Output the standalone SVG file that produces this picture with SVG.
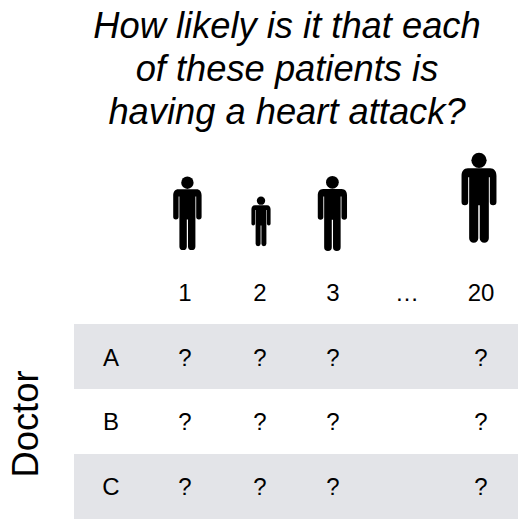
<svg xmlns="http://www.w3.org/2000/svg" width="525" height="521" viewBox="0 0 525 521">
<style>
text{font-family:"Liberation Sans",Arial,Helvetica,sans-serif;fill:#000;text-anchor:middle}
.t{font-size:36.3px;font-style:italic}
.c{font-size:24px}
.d{font-size:36.4px}
.band{fill:#e3e4e8}
</style>
<defs>
<g id="person">
<circle cx="0" cy="6.2" r="6.2"/>
<path d="M-9,12.8H9C12.5,12.8 14.2,15.5 14.2,19V40.2A2.7,2.7 0 0 1 8.8,40.2V20H8V69.9A3.6,3.6 0 0 1 0.6,69.9V43H-0.6V69.9A3.6,3.6 0 0 1 -8,69.9V20H-8.8V40.2A2.7,2.7 0 0 1 -14.2,40.2V19C-14.2,15.5 -12.5,12.8 -9,12.8Z"/>
</g>
</defs>
<rect width="525" height="521" fill="#fff"/>
<g id="title">
<text class="t" x="287" y="38">How likely is it that each</text>
<text class="t" x="287" y="81">of these patients is</text>
<text class="t" x="287" y="124">having a heart attack?</text>
</g>
<g id="bands">
<rect class="band" x="74" y="324" width="444" height="65"/>
<rect class="band" x="74" y="454" width="444" height="65"/>
</g>
<g id="patient-1"><use href="#person" transform="translate(187.4,176.5)"/><text class="c" x="185" y="301">1</text></g>
<g id="patient-2"><use href="#person" transform="translate(261,196.5) scale(.675)"/><text class="c" x="260" y="301">2</text></g>
<g id="patient-3"><use href="#person" transform="translate(332.4,176) scale(1.03,1.02)"/><text class="c" x="333" y="301">3</text></g>
<g id="ellipsis"><text class="c" x="407" y="301">…</text></g>
<g id="patient-20"><use href="#person" transform="translate(479,152.7) scale(1.23,1.224)"/><text class="c" x="481" y="301">20</text></g>
<g id="doctor-label"><text class="d" transform="translate(38,424) rotate(-90)">Doctor</text></g>
<g id="row-A">
<text class="c" x="111" y="366">A</text><text class="c" x="185" y="366">?</text><text class="c" x="260" y="366">?</text><text class="c" x="333" y="366">?</text><text class="c" x="481" y="366">?</text>
</g>
<g id="row-B">
<text class="c" x="111" y="430">B</text><text class="c" x="185" y="430">?</text><text class="c" x="260" y="430">?</text><text class="c" x="333" y="430">?</text><text class="c" x="481" y="430">?</text>
</g>
<g id="row-C">
<text class="c" x="111" y="495">C</text><text class="c" x="185" y="495">?</text><text class="c" x="260" y="495">?</text><text class="c" x="333" y="495">?</text><text class="c" x="481" y="495">?</text>
</g>
</svg>
